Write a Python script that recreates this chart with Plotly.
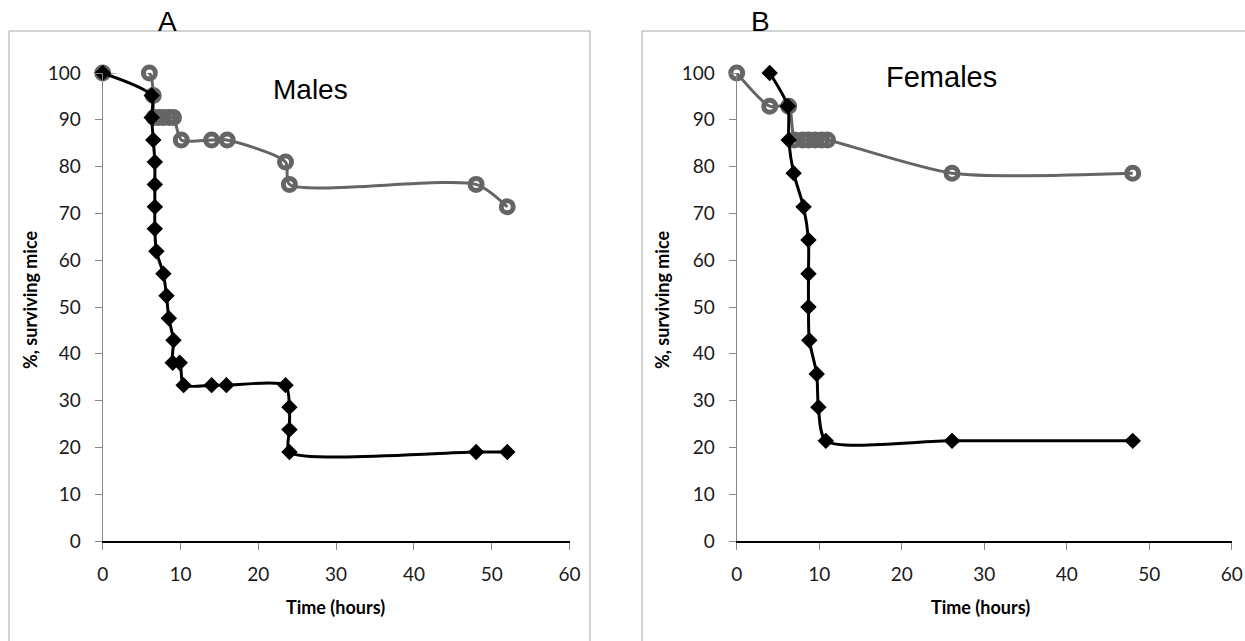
import plotly.graph_objects as go

# Panel A: males
male_ctrl_t = [0, 6, 6.5, 6.6, 7.2, 7.8, 8.5, 9.1, 10.1, 14, 16, 23.5, 24, 48, 52]
male_ctrl_pct = [100, 100, 95.2, 90.5, 90.5, 90.5, 90.5, 90.5, 85.7, 85.7, 85.7, 81.0, 76.2, 76.2, 71.4]

male_trt_t = [0, 6.3, 6.3, 6.5, 6.7, 6.7, 6.7, 6.7, 6.9, 7.8, 8.2, 8.5, 9.1, 9.0, 9.9,
              10.4, 14, 15.9, 23.5, 24, 24, 24, 48, 52]
male_trt_pct = [100, 95.2, 90.5, 85.7, 81.0, 76.2, 71.4, 66.7, 61.9, 57.1, 52.4, 47.6, 42.9, 38.1, 38.1,
                33.3, 33.3, 33.3, 33.3, 28.6, 23.8, 19.0, 19.0, 19.0]

# Panel B: females
female_ctrl_t = [0, 4, 6.3, 7.0, 8.0, 8.7, 9.5, 10.3, 11.0, 26.1, 48]
female_ctrl_pct = [100, 92.9, 92.9, 85.7, 85.7, 85.7, 85.7, 85.7, 85.7, 78.6, 78.6]

female_trt_t = [4, 6.2, 6.3, 6.9, 8.1, 8.7, 8.7, 8.7, 8.8, 9.7, 9.9, 10.8, 26.1, 48]
female_trt_pct = [100, 92.9, 85.7, 78.6, 71.4, 64.3, 57.1, 50.0, 42.9, 35.7, 28.6, 21.4, 21.4, 21.4]

x_ticks = [0, 10, 20, 30, 40, 50, 60]
y_ticks = [0, 10, 20, 30, 40, 50, 60, 70, 80, 90, 100]

W, H = 1245, 641
GRAY = "#656565"
FONT = "Lato"
LABEL_FONT = "Liberation Sans"
SMOOTH = 0.7


def px(x):
    return x / W


def py(y):
    return 1 - y / H


def ctrl_trace(t, p, xa, ya):
    return go.Scatter(
        x=t, y=p, xaxis=xa, yaxis=ya, mode="lines+markers",
        line=dict(color=GRAY, width=3, shape="spline", smoothing=SMOOTH),
        marker=dict(symbol="circle-open", size=12, color=GRAY, line=dict(width=5, color=GRAY)),
        cliponaxis=False, showlegend=False,
    )


def trt_trace(t, p, xa, ya):
    return go.Scatter(
        x=t, y=p, xaxis=xa, yaxis=ya, mode="lines+markers",
        line=dict(color="black", width=3, shape="spline", smoothing=SMOOTH),
        marker=dict(symbol="diamond", size=11, color="black", line=dict(width=1.5, color="black")),
        cliponaxis=False, showlegend=False,
    )


fig = go.Figure()
fig.add_trace(ctrl_trace(male_ctrl_t, male_ctrl_pct, "x", "y"))
fig.add_trace(trt_trace(male_trt_t, male_trt_pct, "x", "y"))
fig.add_trace(ctrl_trace(female_ctrl_t, female_ctrl_pct, "x2", "y2"))
fig.add_trace(trt_trace(female_trt_t, female_trt_pct, "x2", "y2"))

tickfont = dict(family=FONT, size=19, color="#1a1a1a")


def xaxis_cfg(domain, anchor):
    return dict(
        domain=domain, anchor=anchor, range=[0, 60], tickvals=x_ticks,
        showgrid=False, zeroline=False, showline=True, linecolor="black", linewidth=1.5,
        ticks="outside", ticklen=7, tickcolor="#868686", tickwidth=1,
        tickfont=tickfont, ticklabelstandoff=8, automargin=False,
    )


def yaxis_cfg(domain, anchor):
    return dict(
        domain=domain, anchor=anchor, range=[0, 100], tickvals=y_ticks,
        showgrid=False, zeroline=False, showline=True, linecolor="#868686", linewidth=1,
        ticks="outside", ticklen=7, tickcolor="#868686", tickwidth=1,
        tickfont=tickfont, ticklabelstandoff=10, automargin=False,
    )


ydom = [py(541), py(73)]
fig.update_layout(
    width=W, height=H, margin=dict(l=0, r=0, t=0, b=0, autoexpand=False),
    paper_bgcolor="white", plot_bgcolor="white",
    xaxis=xaxis_cfg([px(102.7), px(569.5)], "y"),
    yaxis=yaxis_cfg(ydom, "x"),
    xaxis2=xaxis_cfg([px(736.7), px(1231.7)], "y2"),
    yaxis2=yaxis_cfg(ydom, "x2"),
)

# chart-area frames
for x0, x1 in [(9, 590), (642, 1260)]:
    fig.add_shape(type="rect", xref="paper", yref="paper",
                  x0=px(x0), x1=px(x1), y0=-0.05, y1=py(31),
                  line=dict(color="#a6a6a6", width=1), fillcolor="rgba(0,0,0,0)", layer="below")

texts = [
    ("A", 167, 21, 28, False, LABEL_FONT),
    ("B", 760, 21, 28, False, LABEL_FONT),
    ("Males", 310, 89, 28, False, LABEL_FONT),
    ("Females", 941, 77, 29, False, LABEL_FONT),
    ("Time (hours)", 335, 607, 18, True, FONT),
    ("Time (hours)", 980, 607, 18, True, FONT),
]
for txt, x, y, size, bold, fam in texts:
    fig.add_annotation(
        text=f"<b>{txt}</b>" if bold else txt, xref="paper", yref="paper",
        x=px(x), y=py(y), xanchor="center", yanchor="middle", showarrow=False,
        font=dict(family=fam, size=size, color="black"),
    )

for x in (30, 662):
    fig.add_annotation(
        text="<b>%, surviving mice</b>", xref="paper", yref="paper",
        x=px(x), y=py(300), xanchor="center", yanchor="middle", showarrow=False,
        textangle=-90, font=dict(family=FONT, size=18, color="black"),
    )

fig.write_html("out.html")
